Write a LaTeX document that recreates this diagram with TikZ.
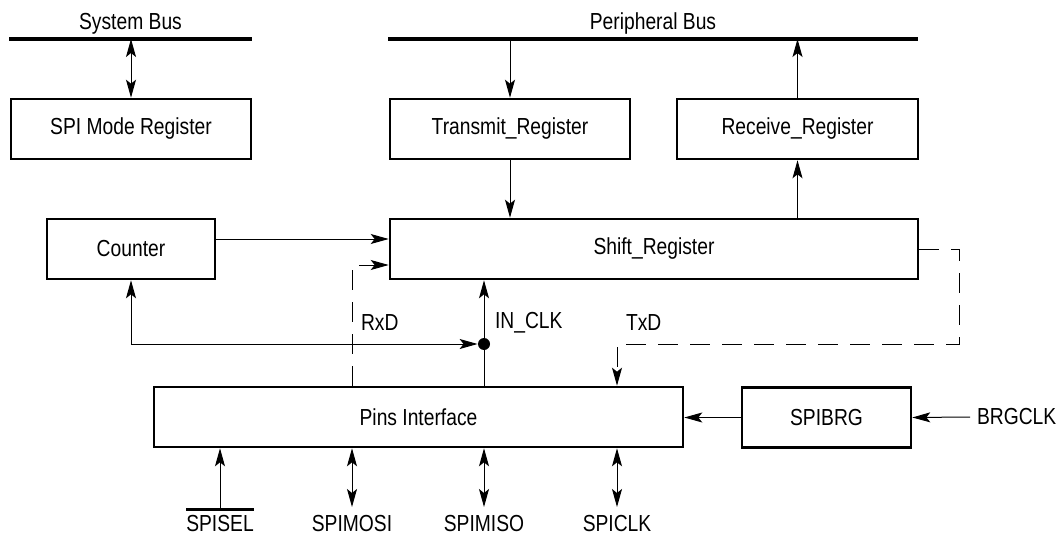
\documentclass[tikz,border=0pt]{standalone}
\usepackage{fontspec}
\setmainfont{Liberation Sans}[FakeStretch=0.83]
\usetikzlibrary{arrows.meta, positioning}
\newcommand\barred[1]{\vbox{\hrule height 1.4pt\kern 2pt\hbox{#1}}}

\begin{document}
\begin{tikzpicture}[
    x=0.5pt, y=-0.5pt,
    every node/.style={font=\fontsize{11.6}{14}\selectfont},
    block/.style={
        draw, rectangle, line width=1.3pt,
        minimum height=30pt, inner sep=0pt
    },
    bus/.style={line width=1.6pt},
    arr/.style={-{Stealth[length=9pt, width=5pt, inset=2pt]}, line width=0.5pt},
    dbl/.style={{Stealth[length=9pt, width=5pt, inset=2pt]}-{Stealth[length=9pt, width=5pt, inset=2pt]}, line width=0.5pt},
    sig/.style={dash pattern=on 10pt off 6pt, line width=0.5pt},
]
\useasboundingbox (0,0) rectangle (1060,535);

% ── buses ──
\coordinate (sysL) at (9,39);
\coordinate (sysR) at (252,39);
\coordinate (perL) at (388,39);
\coordinate (perR) at (918,39);
\draw[bus] (sysL) -- (sysR);
\draw[bus] (perL) -- (perR);
\node (syslbl) at (130.5,24) {System Bus};
\node (perlbl) at (653,24) {Peripheral Bus};

% ── registers ──
\node[block, minimum width=120pt] (modereg) at (131,129) {SPI Mode Register};
\node[block, minimum width=120pt] (transmit) at (510,129) {Transmit\_Register};
\node[block, minimum width=120.5pt] (receive) at (797.5,129) {Receive\_Register};
\node[block, minimum width=84pt] (counter) at (131,249) {Counter};
\node[block, minimum width=264pt] (shift) at (654,249) {Shift\_Register};

% ── pins and baud rate ──
\node[block, minimum width=264.5pt] (pins) at (418.5,417) {Pins Interface};
\node[block, minimum width=84.5pt] (spibrg) at (826.5,417.5) {SPIBRG};
\node[anchor=west] (brgclk) at (970,417) {BRGCLK};

% ── pin signals ──
\node[anchor=base, inner sep=0pt] (spisel) at (220,531) {\barred{SPISEL}};
\draw[arr] (spisel.north) -- (spisel.north |- pins.south);
\foreach \px/\nm/\txt in {352/mosi/SPIMOSI, 484/miso/SPIMISO, 617/clk/SPICLK}{
    \node[anchor=base] (\nm) at (\px,531) {\txt};
    \coordinate (\nm end) at (\px,507);
    \draw[dbl] (\nm end) -- (\nm end |- pins.south);
}

% ── bus connections ──
\draw[dbl] (modereg.north) -- (modereg.north |- sysL);
\draw[arr] (transmit.north |- perL) -- (transmit.north);
\draw[arr] (transmit.south) -- (transmit.south |- shift.north);
\draw[arr] (receive.south |- shift.north) -- (receive.south);
\draw[arr] (receive.north) -- (receive.north |- perL);

% ── internal paths ──
\node[circle, fill, inner sep=0pt, minimum size=6pt] (dot) at (484,344) {};
\coordinate (rxd) at (352,265);
\coordinate (txturn) at (959,344);
\coordinate (txdrop) at (617,344);
\draw[arr] ([yshift=5pt]counter.east) -- ([yshift=5pt]counter.east -| shift.west);
\draw[sig, arr] (pins.north -| rxd) |- ([yshift=-8pt]shift.west);
\draw[arr] (pins.north -| dot) -- (shift.south -| dot);
\draw[dbl] (counter.south) |- (dot);
\draw[sig, arr] (shift.east) -| (txturn) -- (txdrop) -- (txdrop |- pins.north);
\draw[arr] (spibrg.west) -- (spibrg.west -| pins.east);
\draw[arr] (brgclk.west) -- (spibrg.east);

\node[anchor=west] (rxdlbl) at (354,323) {RxD};
\node[anchor=west] (inclklbl) at (488,323) {IN\_CLK};
\node[anchor=west] (txdlbl) at (619,323) {TxD};

\end{tikzpicture}
\end{document}
